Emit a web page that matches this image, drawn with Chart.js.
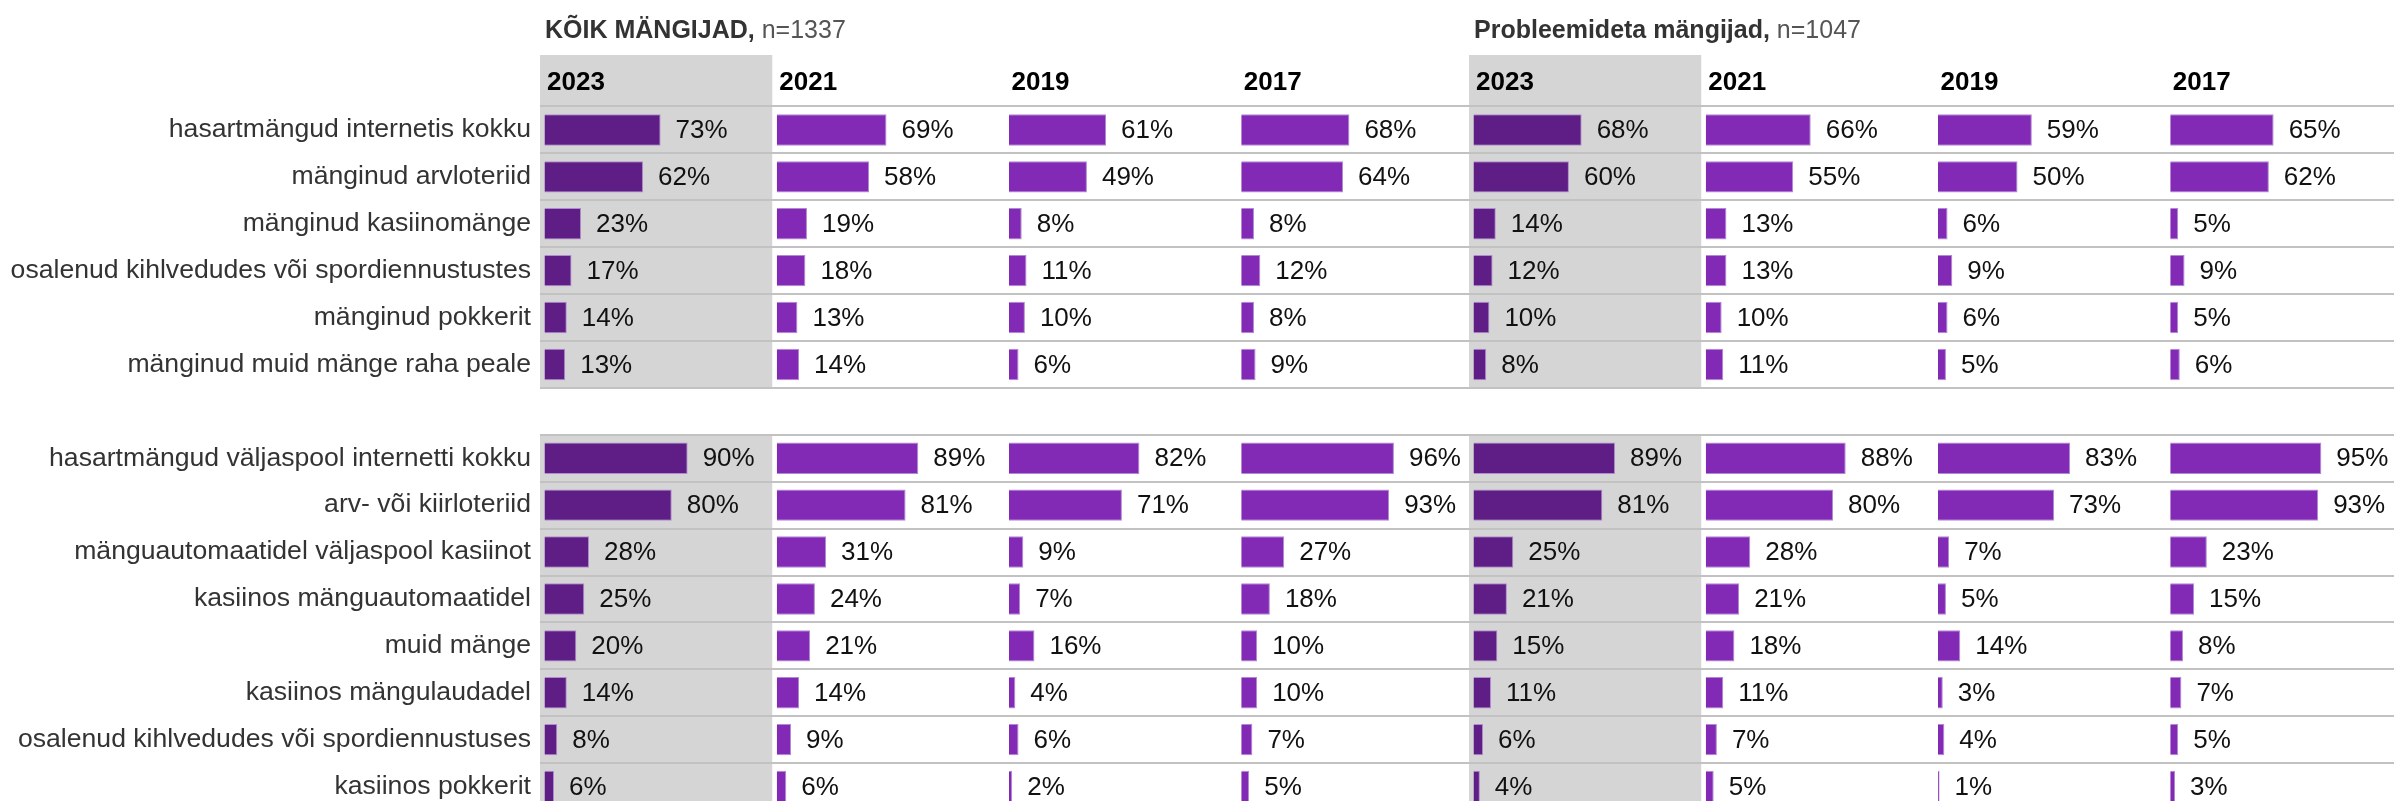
<!DOCTYPE html>
<html>
<head>
<meta charset="utf-8">
<script src="https://cdn.jsdelivr.net/npm/chart.js@4.4.1/dist/chart.umd.min.js"></script>
<style>
  html, body { margin: 0; padding: 0; background: #fff; overflow: hidden; }
  body { width: 2394px; height: 801px; position: relative; font-family: "Liberation Sans", Arial, sans-serif; }
  #c { position: absolute; left: 0; top: 0; }
  .title { position: absolute; top: 14px; font-size: 25px; line-height: 30px; color: #333; font-weight: bold; white-space: nowrap; }
  .title span { font-weight: normal; color: #555; }
  .year { position: absolute; top: 66px; font-size: 26px; line-height: 30px; font-weight: bold; color: #000; }
</style>
</head>
<body>
<canvas id="c" width="2398" height="810"></canvas>
<script>
// row labels (empty one is the spacer between the two blocks)
const categories = [
  'hasartmängud internetis kokku',
  'mänginud arvloteriid',
  'mänginud kasiinomänge',
  'osalenud kihlvedudes või spordiennustustes',
  'mänginud pokkerit',
  'mänginud muid mänge raha peale',
  '',
  'hasartmängud väljaspool internetti kokku',
  'arv- või kiirloteriid',
  'mänguautomaatidel väljaspool kasiinot',
  'kasiinos mänguautomaatidel',
  'muid mänge',
  'kasiinos mängulaudadel',
  'osalenud kihlvedudes või spordiennustuses',
  'kasiinos pokkerit'
];
const years = ['2023', '2021', '2019', '2017'];
const panelTitles = ['KÕIK MÄNGIJAD,', 'Probleemideta mängijad,'];
const panelN = ['n=1337', 'n=1047'];

// KÕIK MÄNGIJAD
const all2023 = [73, 62, 23, 17, 14, 13, null, 90, 80, 28, 25, 20, 14, 8, 6];
const all2021 = [69, 58, 19, 18, 13, 14, null, 89, 81, 31, 24, 21, 14, 9, 6];
const all2019 = [61, 49, 8, 11, 10, 6, null, 82, 71, 9, 7, 16, 4, 6, 2];
const all2017 = [68, 64, 8, 12, 8, 9, null, 96, 93, 27, 18, 10, 10, 7, 5];
// Probleemideta mängijad
const ok2023 = [68, 60, 14, 12, 10, 8, null, 89, 81, 25, 21, 15, 11, 6, 4];
const ok2021 = [66, 55, 13, 13, 10, 11, null, 88, 80, 28, 21, 18, 11, 7, 5];
const ok2019 = [59, 50, 6, 9, 6, 5, null, 83, 73, 7, 5, 14, 3, 4, 1];
const ok2017 = [65, 62, 5, 9, 5, 6, null, 95, 93, 23, 15, 8, 7, 5, 3];

const columns = [all2023, all2021, all2019, all2017, ok2023, ok2021, ok2019, ok2017];

const DARK = '#5f1e86';
const LIGHT = '#8229b6';
const GRAY = '#d5d5d5';
const FONT = '"Liberation Sans", Arial, sans-serif';

// each column gets its own x axis, placed side by side with axis stacking
const scales = {
  y: {
    type: 'category',
    labels: categories,
    offset: true,
    grid: { color: '#c2c2c2', lineWidth: 2, drawTicks: false, offset: true },
    border: { display: false },
    ticks: { autoSkip: false, padding: 9, color: '#333', font: { family: FONT, size: 26.6 } },
    afterFit: function(scale) {
      scale.width = 540;
      scale.paddingTop = 0;
      scale.paddingBottom = 0;
    }
  }
};
const datasets = [];
columns.forEach(function(values, i) {
  scales['x' + i] = {
    type: 'linear', position: 'bottom', stack: 'cols', stackWeight: 1,
    min: -2.83, max: 143.2, display: false
  };
  datasets.push({
    label: years[i % 4],
    data: values,
    xAxisID: 'x' + i,
    yAxisID: 'y',
    grouped: false,
    backgroundColor: i % 4 === 0 ? DARK : LIGHT,
    borderColor: '#b08ad0',
    borderWidth: 1,
    categoryPercentage: 1,
    barPercentage: 0.67
  });
});

// gray background behind the 2023 columns (not in the spacer row)
const grayColumns = {
  id: 'grayColumns',
  beforeDraw: function(chart) {
    const ctx = chart.ctx;
    const y = chart.scales.y;
    const half = (y.getPixelForValue(1) - y.getPixelForValue(0)) / 2;
    const gapTop = y.getPixelForValue(6) - half;
    const gapBottom = y.getPixelForValue(6) + half;
    ctx.save();
    ctx.fillStyle = GRAY;
    [0, 4].forEach(function(i) {
      const s = chart.scales['x' + i];
      ctx.fillRect(s.left, 55, s.right - s.left, gapTop - 55);
      ctx.fillRect(s.left, gapBottom, s.right - s.left, chart.height - gapBottom);
    });
    ctx.restore();
  }
};

// value labels next to each bar
const valueLabels = {
  id: 'valueLabels',
  afterDatasetsDraw: function(chart) {
    const ctx = chart.ctx;
    ctx.save();
    ctx.font = '26px ' + FONT;
    ctx.fillStyle = '#111';
    ctx.textBaseline = 'middle';
    ctx.textAlign = 'left';
    chart.data.datasets.forEach(function(ds, di) {
      const meta = chart.getDatasetMeta(di);
      meta.data.forEach(function(bar, j) {
        if (ds.data[j] === null) return;
        ctx.fillText(ds.data[j] + '%', bar.x + 15, bar.y + 1);
      });
    });
    ctx.restore();
  }
};

const chart = new Chart(document.getElementById('c'), {
  type: 'bar',
  data: { datasets: datasets },
  options: {
    indexAxis: 'y',
    responsive: false,
    devicePixelRatio: 1,
    animation: false,
    layout: { padding: { top: 106.5, left: 0, right: 0, bottom: 0 } },
    plugins: { legend: { display: false }, tooltip: { enabled: false } },
    scales: scales
  },
  plugins: [grayColumns, valueLabels]
});

// headers placed from the axis positions
for (let i = 0; i < 8; i++) {
  const s = chart.scales['x' + i];
  const yr = document.createElement('div');
  yr.className = 'year';
  yr.style.left = (s.left + 7) + 'px';
  yr.textContent = years[i % 4];
  document.body.appendChild(yr);
  if (i % 4 === 0) {
    const t = document.createElement('div');
    t.className = 'title';
    t.style.left = (s.left + 5) + 'px';
    t.innerHTML = panelTitles[i / 4] + ' <span>' + panelN[i / 4] + '</span>';
    document.body.appendChild(t);
  }
}
</script>
</body>
</html>
